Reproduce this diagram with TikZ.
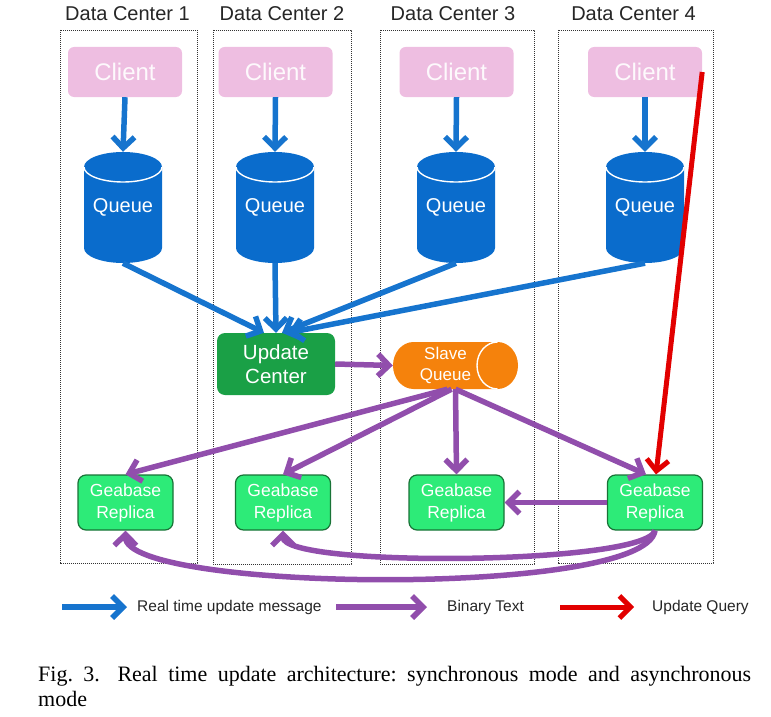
\documentclass[tikz,border=0pt]{standalone}
\usepackage{fontspec}
\setmainfont{Liberation Serif}
\setsansfont{Liberation Sans}
\usetikzlibrary{arrows.meta,calc}
\definecolor{qblue}{RGB}{10,108,204}
\definecolor{ablue}{RGB}{22,116,206}
\definecolor{apurple}{RGB}{145,78,172}
\definecolor{ared}{RGB}{226,0,0}
\definecolor{pinkc}{RGB}{238,190,225}
\definecolor{ucgreen}{RGB}{26,160,70}
\definecolor{rgreen}{RGB}{45,235,120}
\definecolor{rborder}{RGB}{25,115,55}
\definecolor{sorange}{RGB}{245,130,12}
\newcommand\qcyl[1]{%
  \begin{scope}[shift={(#1,0)}]
    \fill[qblue] (-39,167) -- (-39,248)
      arc[start angle=180,end angle=360,x radius=39pt,y radius=15pt]
      -- (39,167)
      arc[start angle=0,end angle=180,x radius=39pt,y radius=15pt] -- cycle;
    \draw[white,line width=1.4pt] (-39,167)
      arc[start angle=180,end angle=360,x radius=39pt,y radius=15pt];
  \end{scope}}
\begin{document}
\begin{tikzpicture}[x=1pt,y=-1pt,
  dcbox/.style={draw=black!80,line width=0.8pt,dash pattern=on 1.2pt off 0.8pt},
  dctitle/.style={font=\sffamily\fontsize{20}{24}\selectfont,text=black!85},
  client/.style={fill=pinkc,rounded corners=6pt,minimum width=114pt,minimum height=50pt,
    inner sep=0pt,text=white!90!pinkc,font=\sffamily\fontsize{24}{28}\selectfont},
  qnode/.style={minimum width=78pt,minimum height=111pt,inner sep=0pt,text=white,
    font=\sffamily\fontsize{20}{24}\selectfont},
  ucbox/.style={fill=ucgreen,rounded corners=8pt,minimum width=118pt,minimum height=62pt,
    inner sep=0pt,text=white,align=center,font=\sffamily\fontsize{20.5}{24.5}\selectfont},
  replica/.style={fill=rgreen,draw=rborder,line width=1.2pt,rounded corners=8pt,
    minimum width=95pt,minimum height=55pt,inner sep=0pt,text=white,align=center,
    font=\sffamily\fontsize{17.5}{22}\selectfont},
  sqtext/.style={text=white,align=center,inner sep=0pt,font=\sffamily\fontsize{17}{21}\selectfont},
  legend/.style={font=\sffamily\fontsize{15.5}{18}\selectfont,text=black!85,inner sep=0pt},
  barrow/.style={draw=ablue,line width=5.5pt,-{Straight Barb[length=11pt,width=22pt]}},
  parrow/.style={draw=apurple,line width=5.5pt,-{Straight Barb[length=11pt,width=22pt]}},
  rarrow/.style={draw=ared,line width=5pt,-{Straight Barb[length=11pt,width=22pt]}}
]
\useasboundingbox (0,0) rectangle (771,717);

% data center boxes
\draw[dcbox] (60,30) rectangle (197,563);
\draw[dcbox] (213,30) rectangle (351,564);
\draw[dcbox] (380,30) rectangle (534,564);
\draw[dcbox] (558,30) rectangle (713,563);
\node[dctitle] (t1) at (127.5,14) {Data Center 1};
\node[dctitle] (t2) at (282,14) {Data Center 2};
\node[dctitle] (t3) at (453,14) {Data Center 3};
\node[dctitle] (t4) at (633.5,14) {Data Center 4};

% clients
\node[client] (c1) at (125,72) {Client};
\node[client] (c2) at (275.5,72) {Client};
\node[client] (c3) at (456.5,72) {Client};
\node[client] (c4) at (645,72) {Client};

% queues
\qcyl{123}\qcyl{275}\qcyl{456}\qcyl{645}
\node[qnode] (q1) at (123,207.5) {Queue};
\node[qnode] (q2) at (275,207.5) {Queue};
\node[qnode] (q3) at (456,207.5) {Queue};
\node[qnode] (q4) at (645,207.5) {Queue};

% update center
\node[ucbox] (uc) at (276,364) {Update\\Center};

% slave queue
\fill[sorange] (413.5,342) -- (497.5,342)
  arc[start angle=90,end angle=-90,x radius=20.5pt,y radius=23.5pt]
  -- (413.5,389)
  arc[start angle=270,end angle=90,x radius=20.5pt,y radius=23.5pt] -- cycle;
\draw[white,line width=1.4pt] (497.5,342)
  arc[start angle=90,end angle=270,x radius=20.5pt,y radius=23.5pt];
\node[minimum width=125pt,minimum height=47pt,inner sep=0pt] (sq) at (455.5,365.5) {};
\node[sqtext] (sqt) at (445.5,365.5) {Slave\\Queue};

% replicas
\node[replica] (r1) at (125.5,502.5) {Geabase\\Replica};
\node[replica] (r2) at (283,502.5) {Geabase\\Replica};
\node[replica] (r3) at (456.5,502.5) {Geabase\\Replica};
\node[replica] (r4) at (655,502.5) {Geabase\\Replica};

% blue arrows
\draw[barrow] (c1.south) -- (q1.north);
\draw[barrow] (c2.south) -- (q2.north);
\draw[barrow] (c3.south) -- (q3.north);
\draw[barrow] (c4.south) -- (q4.north);
\draw[barrow] (q1.south) -- ([xshift=-12pt]uc.north);
\draw[barrow] (q2.south) -- (uc.north);
\draw[barrow] (q3.south) -- ([xshift=6pt]uc.north);
\draw[barrow] (q4.south) -- ([xshift=12pt]uc.north);

% purple arrows
\draw[parrow] (uc.east) -- (sq.west);
\draw[parrow] ([xshift=-8pt]sq.south) -- (r1.north);
\draw[parrow] ([xshift=-4pt]sq.south) -- (r2.north);
\draw[parrow] (sq.south) -- (r3.north);
\draw[parrow] (sq.south) -- ([xshift=-9pt]r4.north);
\draw[parrow] (r4.west) -- (r3.east);
\draw[parrow] (r4.south) .. controls (645,565) and (283,568) .. (r2.south);
\draw[parrow] (r4.south) .. controls (645,598) and (125,592) .. (r1.south);

% red arrow
\draw[rarrow] (c4.east) -- ([xshift=1pt]r4.north);

% legend
\coordinate (l1a) at (62,607); \coordinate (l1b) at (127,607);
\coordinate (l2a) at (336,607); \coordinate (l2b) at (427,607);
\coordinate (l3a) at (560,607); \coordinate (l3b) at (634,607);
\draw[barrow] (l1a) -- (l1b);
\draw[parrow] (l2a) -- (l2b);
\draw[rarrow] (l3a) -- (l3b);
\node[legend,anchor=west] (lt1) at (137,607) {Real time update message};
\node[legend,anchor=west] (lt2) at (447,607) {Binary Text};
\node[legend,anchor=west] (lt3) at (652,607) {Update Query};

% caption
\node[anchor=north west,text width=713pt,align=justify,inner sep=0pt,
  font=\rmfamily\fontsize{22}{25}\selectfont\frenchspacing] (cap) at (38,666)
  {Fig.~3.\hspace{0.8em}Real time update architecture: synchronous mode and asynchronous\linebreak mode};
\end{tikzpicture}
\end{document}
